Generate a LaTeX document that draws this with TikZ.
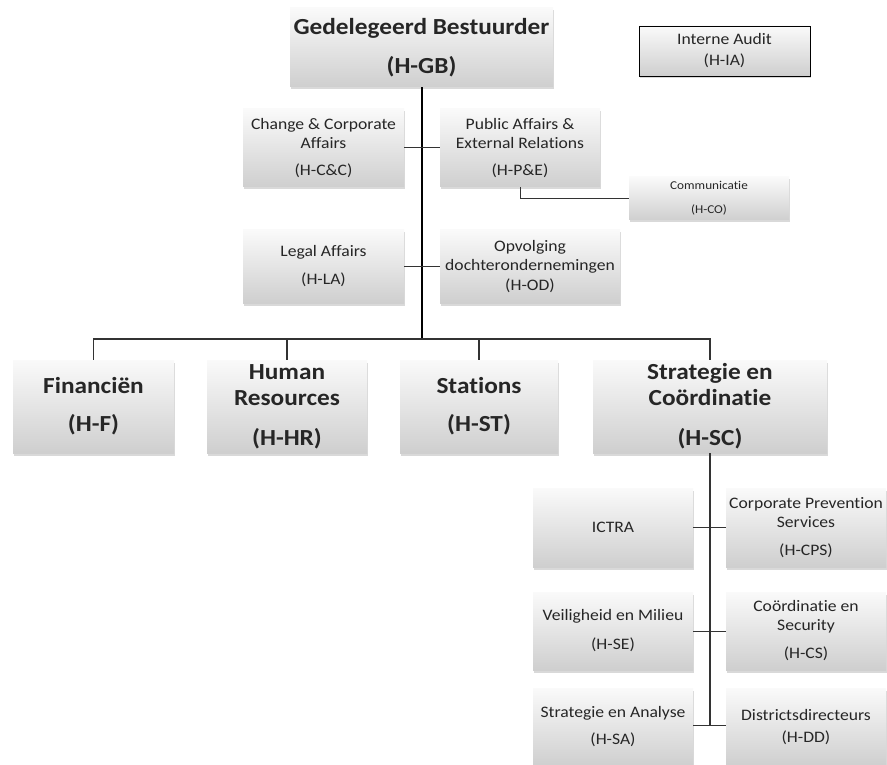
\documentclass[tikz,border=0pt]{standalone}
\usepackage{fontspec}
\setmainfont[FakeStretch=1.1, Ligatures=NoCommon]{Carlito}
\usetikzlibrary{shadows}

\begin{document}
\begin{tikzpicture}[x=1pt, y=-1pt,
    box/.style={rectangle, inner sep=0pt, align=center, text=black!85,
        top color=gray!4, bottom color=gray!38,
        drop shadow={opacity=0.3, shadow xshift=1pt, shadow yshift=-2.5pt}},
    headbox/.style={box, font=\bfseries\fontsize{23}{26}\selectfont,
        minimum height=93pt},
    unitbox/.style={box, font=\fontsize{16}{19}\selectfont,
        minimum width=160pt, minimum height=78pt},
    trunk/.style={draw=black, line width=1.8pt},
    branch/.style={draw=black!80, line width=1.3pt},
    twig/.style={draw=black!80, line width=1pt}]
    \useasboundingbox (0,0) rectangle (887,765);

    % Draw Top of the Chart
    \node[box, font=\bfseries\fontsize{23}{26}\selectfont,
        minimum width=263pt, minimum height=79pt] (gb) at (421.5,47.5)
        {Gedelegeerd Bestuurder\\[13pt](H-GB)};
    \node[box, draw=black, line width=0.8pt, font=\fontsize{16}{21}\selectfont,
        minimum width=171pt, minimum height=50pt] (ia) at (724.5,51)
        {Interne Audit\\(H-IA)};

    % Draw Staff Units
    \node[unitbox, minimum width=161pt] (cc) at (323.5,148)
        {Change \& Corporate\\Affairs\\[8pt](H-C\&C)};
    \node[unitbox] (pe) at (520,148)
        {Public Affairs \&\\External Relations\\[8pt](H-P\&E)};
    \node[box, font=\fontsize{12}{24}\selectfont,
        minimum width=160pt, minimum height=43pt] (co) at (709,198.5)
        {Communicatie\\(H-CO)};
    \node[unitbox, minimum width=161pt, minimum height=73pt] (la) at (323.5,266.5)
        {Legal Affairs\\[9pt](H-LA)};
    \node[unitbox, minimum width=180pt, minimum height=73pt] (od) at (530,266.5)
        {Opvolging\\dochterondernemingen\\[1pt](H-OD)};

    % Draw Directorates
    \node[headbox, minimum width=161pt] (fin) at (93.5,406.5)
        {Financiën\\[12pt](H-F)};
    \node[headbox, minimum width=160pt] (hr) at (287,406.5)
        {Human\\Resources\\[14pt](H-HR)};
    \node[headbox, minimum width=158pt] (st) at (479,406.5)
        {Stations\\[12pt](H-ST)};
    \node[headbox, minimum width=234pt] (sc) at (710,406.5)
        {Strategie en\\Coördinatie\\[14pt](H-SC)};

    % Draw Units under Strategie en Coordinatie
    \node[unitbox, minimum height=79pt] (ictra) at (613,527.5) {ICTRA};
    \node[unitbox, minimum height=79pt] (cps) at (806,527.5)
        {Corporate Prevention\\Services\\[9pt](H-CPS)};
    \node[unitbox] (se) at (613,631) {Veiligheid en Milieu\\[10pt](H-SE)};
    \node[unitbox] (cs) at (806,631)
        {Coördinatie en\\Security\\[9pt](H-CS)};
    \node[unitbox] (sa) at (613,727) {Strategie en Analyse\\[8pt](H-SA)};
    \node[unitbox] (dd) at (806,727) {Districtsdirecteurs\\[3pt](H-DD)};

    % Define Coordinates
    \coordinate (bar) at (422,339);
    \coordinate (foot) at (710,725);

    % Draw Main Lines
    \draw[trunk] (gb.south -| bar) -- (bar);
    \draw[branch] (fin.north) |- (bar) -| (sc.north);
    \draw[branch] (hr.north) -- (hr.north |- bar);
    \draw[branch] (st.north) -- (st.north |- bar);
    \draw[branch] (sc.south) -- (foot);

    % Draw Side Links
    \draw[twig] (cc.east) -- (pe.west);
    \draw[twig] (la.east) -- (od.west);
    \draw[twig] (pe.south) |- (co.west);
    \draw[twig] (ictra.east) -- (cps.west);
    \draw[twig] (se.east) -- (cs.west);
    \draw[twig] (sa.east |- foot) -- (dd.west |- foot);
\end{tikzpicture}
\end{document}
